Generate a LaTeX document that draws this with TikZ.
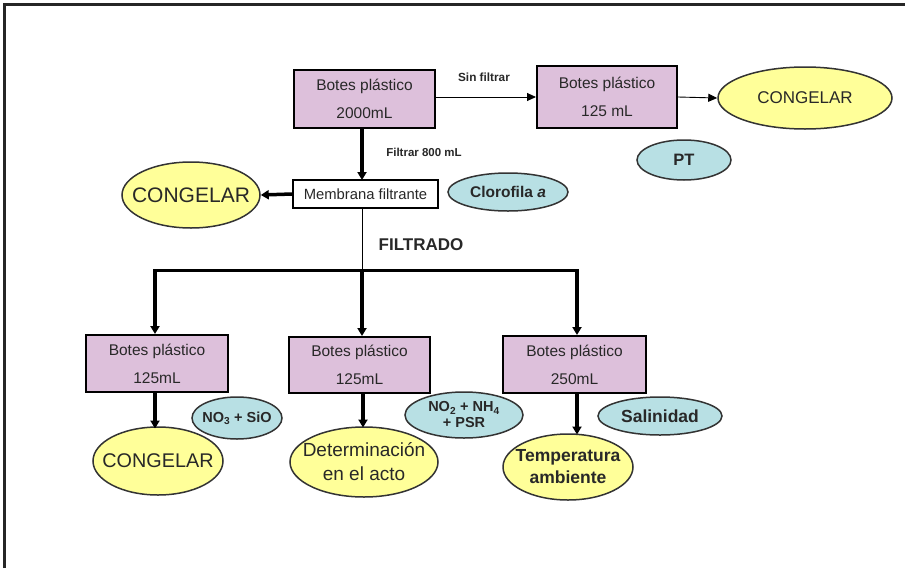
\documentclass[tikz,border=0pt]{standalone}
\usepackage{fontspec}
\setmainfont{Liberation Sans}
\usetikzlibrary{shapes.geometric,arrows.meta}
\definecolor{boxpink}{RGB}{221,192,219}
\definecolor{ellyel}{RGB}{255,255,153}
\definecolor{ellcy}{RGB}{184,224,228}
\definecolor{txt}{RGB}{40,40,40}
\begin{document}
\begin{tikzpicture}[x=1pt,y=-1pt,
  bote/.style={draw=black, line width=2pt, fill=boxpink, align=center, inner sep=0pt,
    font=\fontsize{15.5}{28}\selectfont, text=txt},
  yell/.style={ellipse, draw=black!80, line width=1.5pt, fill=ellyel, inner sep=0pt},
  param/.style={ellipse, draw=black!80, line width=1.5pt, fill=ellcy, inner sep=0pt},
  etext/.style={inner sep=0pt, align=center, text=txt},
  thickarr/.style={line width=3.5pt, -{Triangle[length=8pt,width=9pt]}},
  thinarr/.style={line width=0.9pt, -{Triangle[length=9pt,width=8pt]}},
  lbl/.style={inner sep=0pt, text=txt}]
\useasboundingbox (0,0) rectangle (905,568);
\fill[white] (0,0) rectangle (905,568);
\draw[line width=2.5pt, black!85] (4.5,568) -- (4.5,4.5) -- (905,4.5);

% boxes
\node[bote, minimum width=141pt, minimum height=58pt] (top) at (364.5,99) {Botes plástico\\2000mL};
\node[bote, minimum width=140pt, minimum height=62pt] (tr) at (607,97) {Botes plástico\\125 mL};
\node[draw=black, line width=1.5pt, fill=white, minimum width=145pt, minimum height=28pt, inner sep=0pt,
  font=\fontsize{14.8}{16}\selectfont, text=txt] (memb) at (365.5,194) {Membrana filtrante};
\node[bote, minimum width=142pt, minimum height=57pt] (bl) at (157,363.5) {Botes plástico\\125mL};
\node[bote, minimum width=141pt, minimum height=56pt] (bm) at (359.5,365) {Botes plástico\\125mL};
\node[bote, minimum width=143pt, minimum height=57pt] (br) at (574.5,364.5) {Botes plástico\\250mL};

% yellow ellipses
\node[yell, minimum width=174pt, minimum height=62pt] (cg1) at (805,98) {};
\node[etext, font=\fontsize{17}{18}\selectfont] (cg1t) at (cg1) {CONGELAR};
\node[yell, minimum width=138pt, minimum height=66pt] (cg2) at (191,195) {};
\node[etext, font=\fontsize{21}{22}\selectfont] (cg2t) at (cg2) {CONGELAR};
\node[yell, minimum width=130pt, minimum height=68pt] (cg3) at (158,461) {};
\node[etext, font=\fontsize{19.8}{22}\selectfont] (cg3t) at (cg3) {CONGELAR};
\node[yell, minimum width=148pt, minimum height=70pt] (det) at (364,462) {};
\node[etext, font=\fontsize{19}{24}\selectfont] (dett) at (det) {Determinación\\en el acto};
\node[yell, minimum width=130pt, minimum height=66pt] (temp) at (568,467) {};
\node[etext, font=\bfseries\fontsize{17.5}{22}\selectfont] (tempt) at (temp) {Temperatura\\ambiente};

% cyan ellipses
\node[param, minimum width=94pt, minimum height=40pt] (pt) at (684,160) {};
\node[etext, font=\bfseries\fontsize{16.5}{17}\selectfont] (ptt) at (pt) {PT};
\node[param, minimum width=120pt, minimum height=38pt] (clo) at (508,192) {};
\node[etext, font=\bfseries\fontsize{15.5}{18}\selectfont] (clot) at (clo) {Clorofila \textit{a}};
\node[param, minimum width=90pt, minimum height=42pt] (no3) at (237,418) {};
\node[etext, font=\bfseries\fontsize{14.5}{16}\selectfont] (no3t) at (no3) {NO\textsubscript{3} + SiO};
\node[param, minimum width=118pt, minimum height=46pt] (no2) at (464,415) {};
\node[etext, font=\bfseries\fontsize{14.5}{16}\selectfont] (no2t) at (no2) {NO\textsubscript{2} + NH\textsubscript{4}\\+ PSR};
\node[param, minimum width=124pt, minimum height=38pt] (sal) at (660,416) {};
\node[etext, font=\bfseries\fontsize{17.5}{18}\selectfont] (salt) at (sal) {Salinidad};

% labels
\node[lbl, font=\bfseries\fontsize{11.8}{13}\selectfont] (sinf) at (484,77) {Sin filtrar};
\node[lbl, font=\bfseries\fontsize{11.5}{13}\selectfont] (filt) at (424,152) {Filtrar 800 mL};
\node[lbl, font=\bfseries\fontsize{17}{18}\selectfont] (filtrado) at (421,245) {FILTRADO};

% connectors
\draw[thinarr] (top.east |- tr.west) -- (tr.west);
\draw[thinarr] (tr.east) -- (cg1.west);
\draw[thickarr] (362,128) -- (362,180);
\draw[thickarr] (memb.west) -- (cg2.east);

\coordinate (j0) at (362,270);
\coordinate (jl) at (155,270);
\coordinate (jr) at (577,270);
\draw[line width=1pt] (362,208) -- (j0);
\draw[line width=3pt] (153,270) -- (579,270);
\draw[thickarr] (jl) -- (jl |- bl.north);
\draw[thickarr] (j0) -- (j0 |- bm.north);
\draw[thickarr] (jr) -- (jr |- br.north);

\draw[thickarr] (155,392) -- (155,428.5);
\draw[thickarr] (363,393) -- (363,427.5);
\draw[thickarr] (577,393) -- (577,434.5);
\end{tikzpicture}
\end{document}
